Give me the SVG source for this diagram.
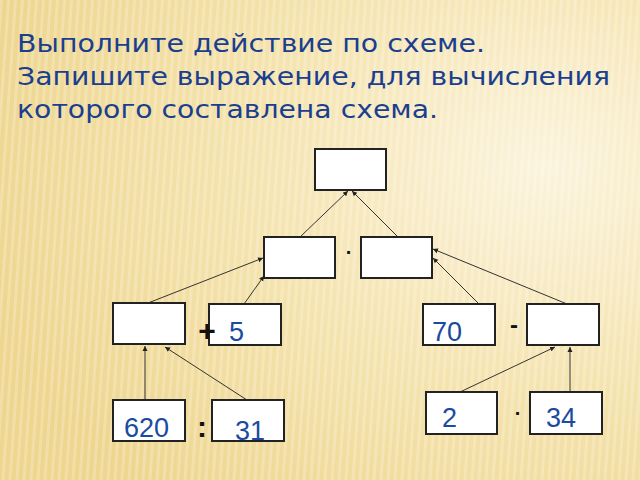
<svg xmlns="http://www.w3.org/2000/svg" width="640" height="480" viewBox="0 0 640 480">
<defs>
<radialGradient id="bg" cx="0.85" cy="0.35" r="0.9">
<stop offset="0" stop-color="#fbf3dc"/>
<stop offset="0.5" stop-color="#f5e4b0"/>
<stop offset="1" stop-color="#eed690"/>
</radialGradient>
<pattern id="st" width="7" height="480" patternUnits="userSpaceOnUse" patternTransform="skewX(-4)">
<rect x="0" y="0" width="3" height="480" fill="#ffffff" opacity="0.22"/>
</pattern>
<linearGradient id="ln" x1="0" x2="1">
<stop offset="0" stop-color="#f0b040" stop-opacity="0"/>
<stop offset="0.3" stop-color="#f0a030"/>
<stop offset="1" stop-color="#f0b040"/>
</linearGradient>
<marker id="ar" markerWidth="6" markerHeight="6" refX="5" refY="3" orient="auto" markerUnits="userSpaceOnUse">
<path d="M0,0.5 L5,3 L0,5.5 z" fill="#222"/>
</marker>
</defs>
<style>
.b{fill:#fff;stroke:#222;stroke-width:2}
.t{font-family:"DejaVu Sans",Verdana,sans-serif;fill:#1b3f8f}
.n{font-family:"Liberation Sans",Arial,sans-serif;fill:#1b4ba0;font-size:27px}
.o{font-family:"Liberation Sans",Arial,sans-serif;fill:#111;font-weight:bold}
#connectors line{stroke:#333;stroke-width:1;marker-end:url(#ar)}
</style>
<rect width="640" height="480" fill="url(#bg)"/>
<rect width="640" height="480" fill="url(#st)"/>
<line x1="450" y1="73" x2="640" y2="73" stroke="url(#ln)" stroke-width="2"/>
<g class="t" font-size="25">
<text x="17" y="52" textLength="468" lengthAdjust="spacingAndGlyphs">Выполните действие по схеме.</text>
<text x="17" y="85" textLength="593" lengthAdjust="spacingAndGlyphs">Запишите выражение, для вычисления</text>
<text x="17" y="118" textLength="421" lengthAdjust="spacingAndGlyphs">которого составлена схема.</text>
</g>
<g id="connectors">
<line x1="300" y1="237" x2="348" y2="191"/>
<line x1="398" y1="237" x2="352" y2="191"/>
<line x1="148" y1="303" x2="263" y2="258"/>
<line x1="244" y1="304" x2="264" y2="276"/>
<line x1="479" y1="304" x2="433" y2="258"/>
<line x1="567" y1="304" x2="433" y2="249"/>
<line x1="145" y1="400" x2="145" y2="346"/>
<line x1="247" y1="400" x2="165" y2="347"/>
<line x1="460" y1="392" x2="555" y2="347"/>
<line x1="570" y1="392" x2="570" y2="347"/>
</g>
<g id="top"><rect class="b" x="315" y="149" width="71" height="41"/></g>
<g id="midL"><rect class="b" x="264" y="237" width="71" height="41"/></g>
<g id="midR"><rect class="b" x="361" y="237" width="71" height="41"/></g>
<g id="opMid"><text class="o" x="349" y="259" font-size="20" text-anchor="middle">·</text></g>
<g id="r3a"><rect class="b" x="113" y="303" width="72" height="41"/></g>
<g id="r3b"><rect class="b" x="209" y="304" width="72" height="41"/><text class="n" x="229" y="341">5</text></g>
<g id="opPlus"><text class="o" x="207" y="341" font-size="30" text-anchor="middle">+</text></g>
<g id="r3c"><rect class="b" x="423" y="304" width="72" height="41"/><text class="n" x="432" y="341">70</text></g>
<g id="opMinus"><text class="o" x="514" y="333" font-size="24" text-anchor="middle">-</text></g>
<g id="r3d"><rect class="b" x="527" y="304" width="72" height="41"/></g>
<g id="b620"><rect class="b" x="113" y="400" width="72" height="41"/><text class="n" x="124" y="437">620</text></g>
<g id="opDiv"><text class="o" x="202" y="437" font-size="30" text-anchor="middle">:</text></g>
<g id="b31"><rect class="b" x="212" y="400" width="72" height="41"/><text class="n" x="235" y="440">31</text></g>
<g id="b2"><rect class="b" x="426" y="392" width="71" height="42"/><text class="n" x="442" y="427">2</text></g>
<g id="opDot2"><text class="o" x="518" y="420" font-size="20" text-anchor="middle">·</text></g>
<g id="b34"><rect class="b" x="530" y="392" width="72" height="42"/><text class="n" x="546" y="427">34</text></g>
</svg>
